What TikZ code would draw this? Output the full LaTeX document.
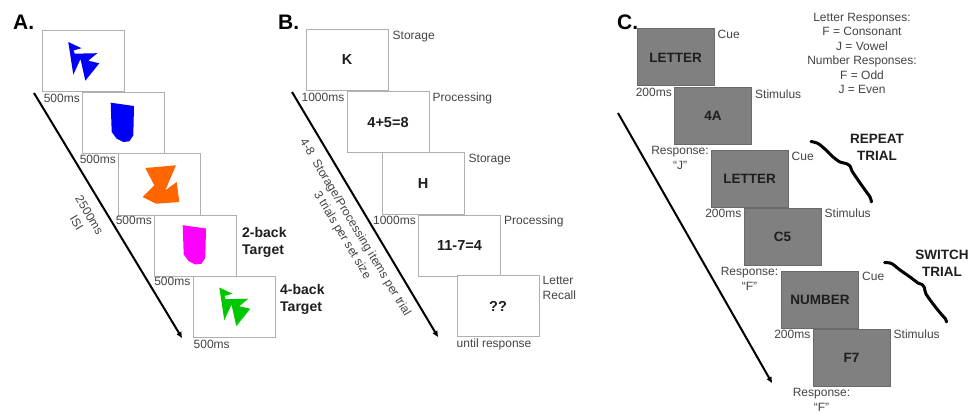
\documentclass[tikz,border=0pt]{standalone}
\usepackage{fontspec}
\setmainfont{Liberation Sans}
\usetikzlibrary{arrows.meta,calc}
\definecolor{boxgray}{HTML}{AFAFAF}
\definecolor{gfill}{HTML}{808080}
\definecolor{gborder}{HTML}{6A6A6A}
\definecolor{txtdark}{HTML}{1E1E1E}
\definecolor{lblc}{HTML}{444444}
\definecolor{shblue}{RGB}{0,0,250}
\definecolor{shorange}{RGB}{255,102,0}
\definecolor{shmagenta}{RGB}{255,0,255}
\definecolor{shgreen}{RGB}{0,200,0}
\begin{document}
\begin{tikzpicture}[x=1pt,y=-1pt,
  wbox/.style={draw=boxgray, line width=1pt, fill=white, minimum width=82pt, minimum height=61pt, inner sep=0pt, font=\fontsize{14.5}{17}\selectfont\bfseries, text=txtdark},
  gbox/.style={draw=gborder, line width=1pt, fill=gfill, minimum width=77pt, minimum height=57pt, inner sep=0pt, font=\fontsize{13.5}{16}\selectfont\bfseries, text=txtdark},
  lbl/.style={inner sep=0pt, font=\fontsize{12}{14.4}\selectfont, text=lblc},
  rlbl/.style={inner sep=0pt, font=\fontsize{12}{15}\selectfont, text=lblc, align=center, rotate=-59},
  blbl/.style={inner sep=0pt, font=\fontsize{14}{17.5}\selectfont\bfseries, text=txtdark, align=left},
  clbl/.style={inner sep=0pt, font=\fontsize{13.5}{17}\selectfont\bfseries, text=txtdark, align=center},
  ttl/.style={inner sep=0pt, font=\fontsize{21}{25}\selectfont\bfseries},
  tl/.style={line width=2pt, -{Triangle[length=6pt,width=5pt]}},
  bracestyle/.style={line width=3pt, line cap=round, line join=round}
]
\useasboundingbox (0,0) rectangle (973,414);
\fill[white] (0,0) rectangle (973,414);

% ---------------- Panel A ----------------
\node[ttl, anchor=base west] (tA) at (13,30) {A.};
\node[wbox] (a1) at (83,61) {};
\node[wbox] (a2) at (123.5,123.5) {};
\node[wbox] (a3) at (159.5,184.5) {};
\node[wbox] (a4) at (195.5,246) {};
\node[wbox] (a5) at (234,306.5) {};
% shapes
\fill[shblue, shift={(a1.center)}] (-14.7,-19) -- (-1.5,-12.8) -- (-9.5,-10.5) -- (-8.3,-7.3) -- (14.3,-7.8) -- (5.3,-0.3) -- (16.3,2.3) -- (2.3,19.7) -- (-2.5,-2) -- (-9.7,13.7) -- cycle;
\fill[shblue, shift={(a2.center)}] (-12.8,-20.8) -- (10.5,-17.5) -- (9.8,11.8) -- (5.8,17.8) -- (-0.2,18.5) -- (-6.8,15.2) -- (-11.8,8.5) -- cycle;
\fill[shorange, shift={(a3.center)}] (-14.2,-16.5) -- (16.5,-19.2) -- (5.8,5.8) -- (17.2,-2.5) -- (19.8,17.5) -- (-3.5,19.2) -- (-16.8,12.5) -- (-5.2,0.8) -- cycle;
\fill[shmagenta, shift={(a4.center)}] (-12.8,-20.8) -- (10.5,-17.5) -- (9.8,11.8) -- (5.8,17.8) -- (-0.2,18.5) -- (-6.8,15.2) -- (-11.8,8.5) -- cycle;
\fill[shgreen, shift={(a5.center)}] (-14.7,-19) -- (-1.5,-12.8) -- (-9.5,-10.5) -- (-8.3,-7.3) -- (14.3,-7.8) -- (5.3,-0.3) -- (16.3,2.3) -- (2.3,19.7) -- (-2.5,-2) -- (-9.7,13.7) -- cycle;
\node[lbl, anchor=north east] (ta1) at ($(a2.north west)+(-2,1)$) {500ms};
\node[lbl, anchor=north east] (ta2) at ($(a3.north west)+(-2,1)$) {500ms};
\node[lbl, anchor=north east] (ta3) at ($(a4.north west)+(-2,1)$) {500ms};
\node[lbl, anchor=north east] (ta4) at ($(a5.north west)+(-2,1)$) {500ms};
\node[lbl, anchor=north west] (ta5) at ($(a5.south west)+(1,2)$) {500ms};
\node[blbl, anchor=north west] (t2b) at (242,227) {2-back\\Target};
\node[blbl, anchor=north west] (t4b) at (280,284) {4-back\\Target};
\coordinate (aS) at (34,93);
\coordinate (aE) at (182,338);
\draw[tl] (aS) -- (aE);
\node[rlbl] (isi) at (83,219) {2500ms\\ISI};

% ---------------- Panel B ----------------
\node[ttl, anchor=base west] (tB) at (278,30) {B.};
\node[wbox] (b1) at (347,60) {K};
\node[wbox] (b2) at (388,122.5) {4+5=8};
\node[wbox] (b3) at (423,183.5) {H};
\node[wbox] (b4) at (459.5,245.5) {11-7=4};
\node[wbox] (b5) at (498,306) {??};
\node[lbl, anchor=north west] (sb1) at ($(b1.north east)+(4,1.5)$) {Storage};
\node[lbl, anchor=north west] (sb2) at ($(b2.north east)+(3,1.5)$) {Processing};
\node[lbl, anchor=north west] (sb3) at ($(b3.north east)+(4,1.5)$) {Storage};
\node[lbl, anchor=north west] (sb4) at ($(b4.north east)+(3,1.5)$) {Processing};
\node[lbl, anchor=north west, align=left] (sb5) at ($(b5.north east)+(3,1.5)$) {Letter\\Recall};
\node[lbl, anchor=north east] (tb1) at ($(b2.north west)+(-2,1)$) {1000ms};
\node[lbl, anchor=north east] (tb2) at ($(b4.north west)+(-2,1)$) {1000ms};
\node[lbl, anchor=north west] (tb3) at ($(b5.south west)+(0,2)$) {until response};
\coordinate (bS) at (292,92);
\coordinate (bE) at (438,337);
\draw[tl] (bS) -- (bE);
\node[rlbl] (bitems) at (348.5,231.5) {4-8\ \ Storage/Processing items per trial\\3 trials per set size};

% ---------------- Panel C ----------------
\node[ttl, anchor=base west] (tC) at (617,30) {C.};
\node[gbox] (c1) at (675.5,57.5) {LETTER};
\node[gbox] (c2) at (713,116) {4A};
\node[gbox] (c3) at (749.5,179) {LETTER};
\node[gbox] (c4) at (782.5,236.5) {C5};
\node[gbox] (c5) at (820,299.5) {NUMBER};
\node[gbox] (c6) at (851.5,357.5) {F7};
\node[lbl, anchor=north west] (sc1) at ($(c1.north east)+(3,1.5)$) {Cue};
\node[lbl, anchor=north west] (sc2) at ($(c2.north east)+(3,3)$) {Stimulus};
\node[lbl, anchor=north west] (sc3) at ($(c3.north east)+(3,1.5)$) {Cue};
\node[lbl, anchor=north west] (sc4) at ($(c4.north east)+(3,1.5)$) {Stimulus};
\node[lbl, anchor=north west] (sc5) at ($(c5.north east)+(3,1.5)$) {Cue};
\node[lbl, anchor=north west] (sc6) at ($(c6.north east)+(3,1.5)$) {Stimulus};
\node[lbl, anchor=north east] (tc1) at ($(c2.north west)+(-2,1)$) {200ms};
\node[lbl, anchor=north east] (tc2) at ($(c4.north west)+(-2,1)$) {200ms};
\node[lbl, anchor=north east] (tc3) at ($(c6.north west)+(-2,1)$) {200ms};
\node[lbl, anchor=north, align=center] (rc1) at ($(c2.south west)+(6,1.5)$) {Response:\\“J”};
\node[lbl, anchor=north, align=center] (rc2) at ($(c4.south west)+(6,2)$) {Response:\\“F”};
\node[lbl, anchor=north, align=center] (rc3) at ($(c6.south west)+(9,2)$) {Response:\\“F”};
\node[lbl, anchor=north, align=center] (legend) at (862,13) {Letter Responses:\\F = Consonant\\J = Vowel\\Number Responses:\\F = Odd\\J = Even};
\node[clbl] (rep) at (877,147.5) {REPEAT\\TRIAL};
\node[clbl] (sw) at (942,263.5) {SWITCH\\TRIAL};
\draw[bracestyle] plot[smooth, tension=0.5] coordinates {(811,141.5) (818,143.5) (826,150) (833,157) (840,162) (846,163.5) (850,166) (852,171) (858,180) (865,190) (870,197) (871.5,202)};
\draw[bracestyle] plot[smooth, tension=0.5] coordinates {(884.5,262.5) (891.5,263.5) (900,270) (910,277) (918,283) (922,284.5) (924.5,288) (926,294) (935,306.5) (942,315) (945.5,319) (946.5,322)};
\coordinate (cS) at (618,113);
\coordinate (cE) at (772,383);
\draw[tl] (cS) -- (cE);
\end{tikzpicture}
\end{document}
